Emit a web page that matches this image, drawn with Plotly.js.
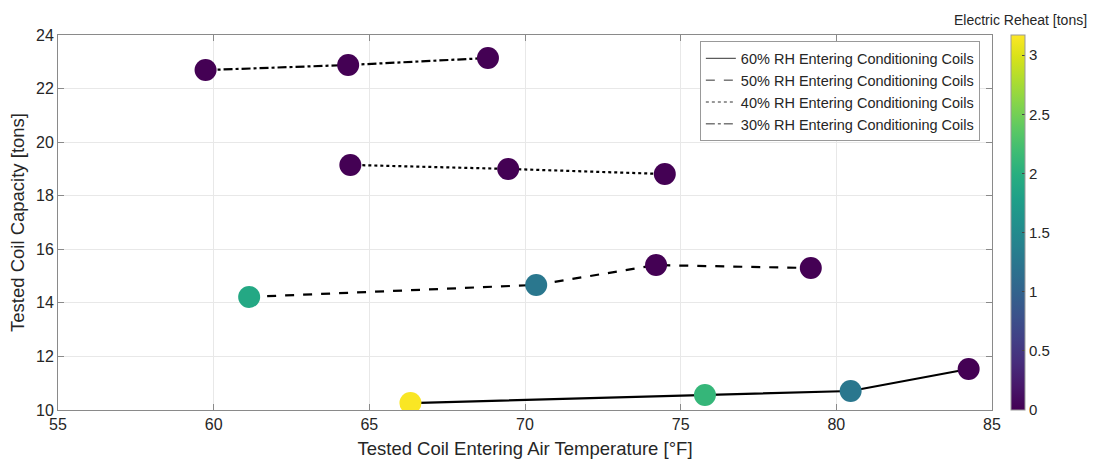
<!DOCTYPE html>
<html><head><meta charset="utf-8">
<script src="https://cdn.plot.ly/plotly-3.0.1.min.js"></script>
<style>body{margin:0;background:#fff}#c{width:1099px;height:464px}</style>
</head><body><div id="c"></div>
<script>
const seriesNames = ["60% RH Entering Conditioning Coils","50% RH Entering Conditioning Coils","40% RH Entering Conditioning Coils","30% RH Entering Conditioning Coils"];
const temp60 = [66.32, 75.78, 80.46, 84.25];
const cap60  = [10.26, 10.56, 10.71, 11.53];
const reheat60 = [3.15, 2.1, 1.25, 0];
const temp50 = [61.14, 70.36, 74.21, 79.18];
const cap50  = [14.22, 14.67, 15.41, 15.30];
const reheat50 = [1.9, 1.25, 0, 0];
const temp40 = [64.39, 69.46, 74.49];
const cap40  = [19.15, 19.0, 18.81];
const reheat40 = [0, 0, 0];
const temp30 = [59.74, 64.32, 68.81];
const cap30  = [22.69, 22.88, 23.14];
const reheat30 = [0, 0, 0];
const xTicks = [55,60,65,70,75,80,85];
const yTicks = [10,12,14,16,18,20,22,24];
const cbTicks = [0,0.5,1,1.5,2,2.5,3];

const FONT = "Liberation Sans, Arial, sans-serif";
const xs=[temp60,temp50,temp40,temp30], ys=[cap60,cap50,cap40,cap30], cs=[reheat60,reheat50,reheat40,reheat30];
const dashes=["solid","dash","dot","dashdot"];
const traces=[];
for(let i=0;i<4;i++){
  traces.push({x:xs[i],y:ys[i],mode:"lines",type:"scatter",name:seriesNames[i],showlegend:false,
    line:{color:"#000",width:2.2,dash:dashes[i]},hoverinfo:"skip"});
}
for(let i=0;i<4;i++){
  traces.push({x:[null],y:[null],mode:"lines",type:"scatter",name:seriesNames[i],showlegend:true,
    line:{color:"#333",width:1,dash:dashes[i]}});
}
const allX=[].concat(...xs), allY=[].concat(...ys), allC=[].concat(...cs);
traces.push({x:allX,y:allY,mode:"markers",type:"scatter",showlegend:false,
  marker:{size:22,color:allC,colorscale:"Viridis",cmin:0,cmax:3.17,line:{width:0},
    colorbar:{x:1.0203,xanchor:"left",y:0,yanchor:"bottom",len:1,lenmode:"fraction",thickness:14,
      outlinecolor:"#999",outlinewidth:1,tickvals:cbTicks,ticktext:cbTicks.map(String),ticks:"inside",ticklen:3,tickcolor:"#444",
      tickfont:{family:FONT,size:15,color:"#262626"},xpad:0,ypad:0}}});

const axFont={family:FONT,size:16,color:"#262626"};
const layout={
  width:1099,height:464,margin:{l:58,r:107,t:35,b:54},
  paper_bgcolor:"#fff",plot_bgcolor:"#fff",
  xaxis:{range:[55,85],tickvals:xTicks,ticktext:xTicks.map(String),showgrid:true,gridcolor:"#e8e8e8",
    zeroline:false,showline:true,linecolor:"#8a8a8a",mirror:"ticks",ticks:"inside",ticklen:6,tickcolor:"#8a8a8a",
    tickfont:axFont,title:{text:"Tested Coil Entering Air Temperature [°F]",font:{family:FONT,size:18.5,color:"#262626"},standoff:9}},
  yaxis:{range:[10,24],tickvals:yTicks,ticktext:yTicks.map(String),showgrid:true,gridcolor:"#e8e8e8",
    zeroline:false,showline:true,linecolor:"#8a8a8a",mirror:"ticks",ticks:"inside",ticklen:6,tickcolor:"#8a8a8a",
    tickfont:axFont,title:{text:"Tested Coil Capacity [tons]",font:{family:FONT,size:18.5,color:"#262626"},standoff:6}},
  legend:{x:0.987,xanchor:"right",y:0.983,yanchor:"top",bgcolor:"#fff",bordercolor:"#999",borderwidth:1,
    font:{family:FONT,size:14.5,color:"#262626"},tracegroupgap:0,itemwidth:30},
  annotations:[{text:"Electric Reheat [tons]",xref:"paper",yref:"paper",x:1.03,y:1.0,yshift:15,xanchor:"center",yanchor:"middle",
    showarrow:false,font:{family:FONT,size:14,color:"#262626"}}],
  showlegend:true
};
Plotly.newPlot("c",traces,layout,{displayModeBar:false,staticPlot:true});
</script></body></html>
